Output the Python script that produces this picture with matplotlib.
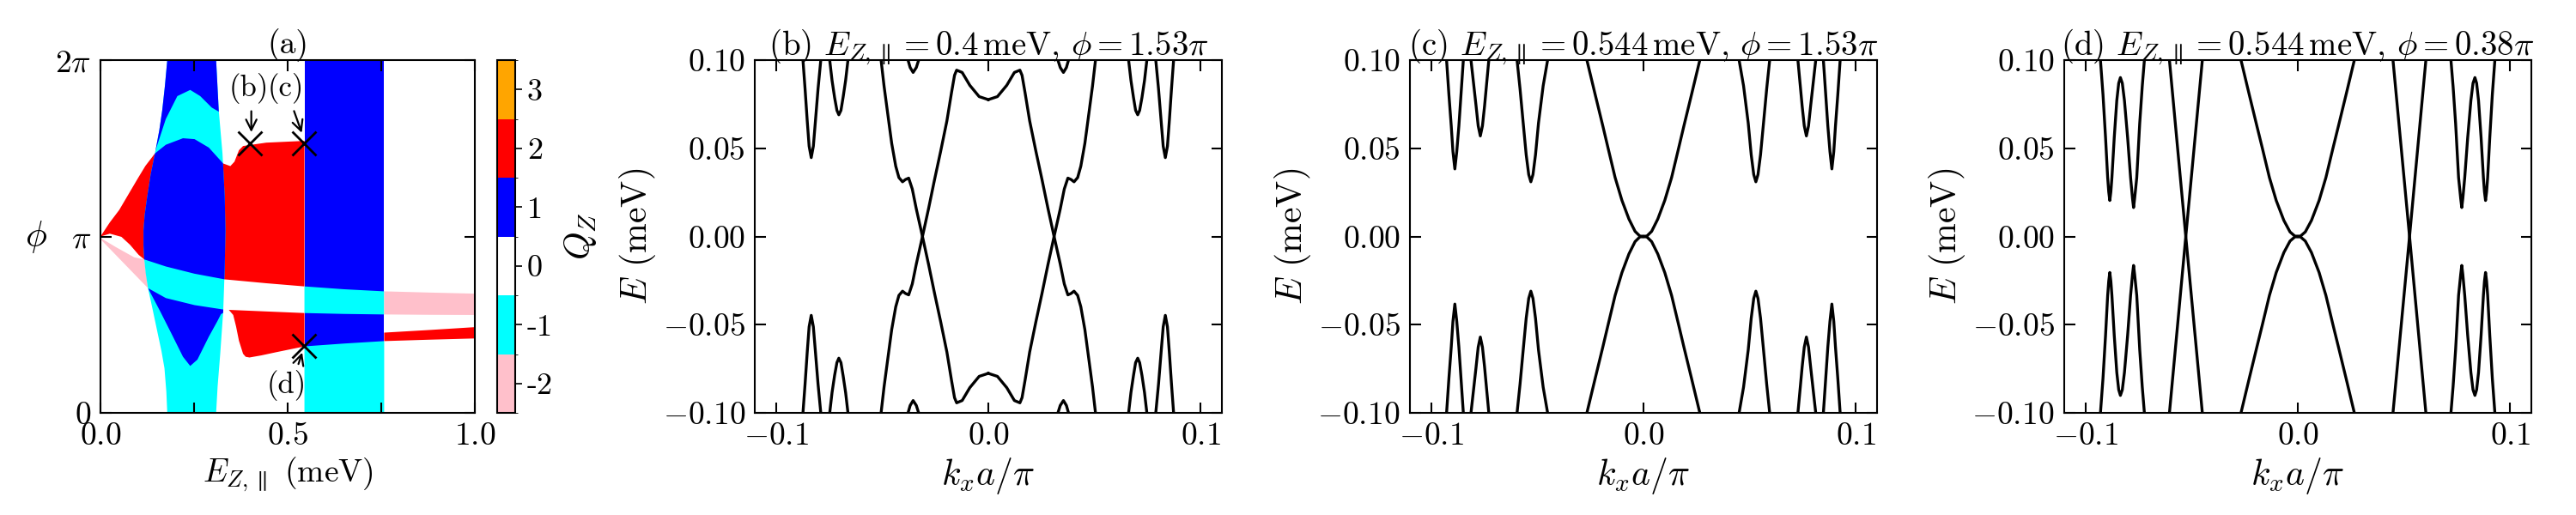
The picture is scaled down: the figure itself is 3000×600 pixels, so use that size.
import matplotlib
matplotlib.use("Agg")
import matplotlib.pyplot as plt
import numpy as np
from matplotlib.colors import ListedColormap, BoundaryNorm
from matplotlib.patches import Polygon
from matplotlib.cm import ScalarMappable

plt.rcParams["font.family"] = "serif"
plt.rcParams["font.serif"] = ["cmr10"]
plt.rcParams["mathtext.fontset"] = "cm"
plt.rcParams["axes.formatter.use_mathtext"] = True
plt.rcParams["font.size"] = 26

# ---------------- (a) phase diagram, x = E_Z (meV), y = phi/pi ----------------
qz_values = [-2, -1, 0, 1, 2, 3]
qz_colors = ["pink", "cyan", "white", "blue", "red", "orange"]

lobe_left_E = [0.1785, 0.172, 0.165, 0.157, 0.1456, 0.134, 0.125, 0.118, 0.115, 0.115,
               0.117, 0.121, 0.127, 0.138, 0.151, 0.163, 0.171, 0.176, 0.1785]
lobe_left_p = [2.0, 1.85, 1.715, 1.6, 1.471, 1.35, 1.227, 1.12, 1.033, 0.95,
               0.87, 0.79, 0.707, 0.6, 0.47, 0.35, 0.253, 0.12, 0.0]
lobe_right_E = [0.309, 0.316, 0.326, 0.332, 0.334, 0.332, 0.328, 0.320, 0.313, 0.309]
lobe_right_p = [2.0, 1.715, 1.471, 1.227, 1.033, 0.822, 0.578, 0.335, 0.15, 0.0]

c1_E = [0.0, 0.025, 0.05, 0.075, 0.10, 0.12, 0.1456, 0.1746, 0.2205, 0.2513, 0.2895,
        0.3278, 0.347, 0.358, 0.370, 0.381, 0.443, 0.545]
c1_p = [1.0, 1.08, 1.15, 1.24, 1.33, 1.40, 1.471, 1.520, 1.557, 1.552, 1.504,
        1.414, 1.399, 1.424, 1.489, 1.513, 1.532, 1.542]

c2_E = [0.10, 0.1456, 0.1746, 0.2054, 0.2398, 0.2665, 0.2973, 0.320, 0.34]
c2_p = [1.47, 1.479, 1.666, 1.796, 1.831, 1.796, 1.731, 1.703, 1.69]

c3_E = [0.0, 0.025, 0.056, 0.079, 0.102, 0.117, 0.1746, 0.2513, 0.332, 0.443, 0.545,
        0.65, 0.758, 0.88, 1.0]
c3_p = [1.0, 1.016, 0.998, 0.953, 0.896, 0.870, 0.830, 0.789, 0.757, 0.735, 0.717,
        0.701, 0.689, 0.682, 0.676]

c5_E = [0.120, 0.127, 0.1746, 0.2513, 0.328, 0.343, 0.443, 0.545, 0.65, 0.758, 0.88, 1.0]
c5_p = [0.715, 0.707, 0.651, 0.611, 0.586, 0.584, 0.575, 0.566, 0.561, 0.558, 0.556, 0.555]

c8_E = [0.115, 0.127, 0.159, 0.190, 0.2205, 0.2398, 0.259, 0.2895, 0.3124, 0.322, 0.34]
c8_p = [0.72, 0.707, 0.578, 0.448, 0.318, 0.266, 0.302, 0.432, 0.52, 0.56, 0.58]

c6_E = [0.388, 0.398, 0.43, 0.4695, 0.545, 0.65, 0.758, 0.88, 1.0]
c6_p = [0.318, 0.314, 0.326, 0.344, 0.377, 0.393, 0.407, 0.415, 0.422]

spike_E = [0.343, 0.3547, 0.3623, 0.370, 0.381, 0.388]
spike_p = [0.584, 0.555, 0.490, 0.409, 0.335, 0.318]

c7_E = [0.758, 0.88, 1.0]
c7_p = [0.455, 0.470, 0.486]

pink_E = [0.0, 0.041, 0.090, 0.117, 0.127, 0.0]
pink_p = [0.992, 0.94, 0.882, 0.870, 0.707, 0.985]

strip_E = [0.545, 0.758]

mark_E = [0.4, 0.544, 0.544]
mark_p = [1.53, 1.53, 0.38]
mark_lab = ["(b)", "(c)", "(d)"]
lab_pos = [(0.397, 1.838), (0.495, 1.838), (0.498, 0.158)]
arrow_from = [(0.403, 1.724), (0.515, 1.724), (0.527, 0.264)]
arrow_to = [(0.403, 1.578), (0.540, 1.575), (0.541, 0.355)]

b_main_k = [-0.0505, -0.0491, -0.0473, -0.0455, -0.0436, -0.0421, -0.0404, -0.0390, -0.0375,
            -0.0358, -0.0339, -0.0310, -0.0281, -0.0253, -0.0224, -0.0195, -0.0173, -0.0159,
            -0.0149, -0.0123, -0.0087, -0.0043, 0.0]
b_main_E = [0.100, 0.0853, 0.0690, 0.0528, 0.0399, 0.0334, 0.0310, 0.0323, 0.0331,
            0.0269, 0.0156, 0.0, -0.0160, -0.0323, -0.0485, -0.0655, -0.0817, -0.0914,
            -0.0943, -0.0930, -0.0857, -0.0793, -0.0776]
b_u1_k = [-0.0873, -0.0863, -0.0853, -0.0844, -0.0834, -0.0824, -0.0814, -0.0802, -0.0789]
b_u1_E = [0.100, 0.0836, 0.0658, 0.0512, 0.0447, 0.0512, 0.0658, 0.0836, 0.100]
b_u2_k = [-0.0747, -0.0736, -0.0724, -0.0713, -0.0704, -0.0694, -0.0684, -0.0672, -0.0661]
b_u2_E = [0.100, 0.0885, 0.0788, 0.0715, 0.0690, 0.0715, 0.0788, 0.0885, 0.100]
b_u3_k = [-0.0378, -0.0368, -0.0354, -0.0339, -0.0328]
b_u3_E = [0.100, 0.0958, 0.0930, 0.0958, 0.100]

c_main_k = [-0.0266, -0.0227, -0.0191, -0.0166, -0.0133, -0.0101, -0.0068, -0.0039, -0.0017, 0.0]
c_main_E = [0.100, 0.0805, 0.0627, 0.0500, 0.0334, 0.0205, 0.0099, 0.0029, 0.0003, 0.0]
c_v1_k = [-0.0927, -0.0916, -0.0905, -0.0897, -0.0888, -0.0879, -0.0869, -0.0859, -0.0848]
c_v1_E = [0.100, 0.0805, 0.0627, 0.0481, 0.0383, 0.0481, 0.0627, 0.0805, 0.100]
c_v2_k = [-0.0812, -0.0800, -0.0788, -0.0778, -0.0768, -0.0758, -0.0748, -0.0738, -0.0728]
c_v2_E = [0.100, 0.0870, 0.0740, 0.0627, 0.0570, 0.0627, 0.0740, 0.0870, 0.100]
c_v3_k = [-0.0595, -0.0581, -0.0566, -0.0552, -0.0540, -0.0530, -0.0520, -0.0508, -0.0494, -0.0472, -0.0451]
c_v3_E = [0.100, 0.0838, 0.0643, 0.0464, 0.0351, 0.0310, 0.0351, 0.0464, 0.0643, 0.0854, 0.100]

d_main_k = [-0.0267, -0.0228, -0.0192, -0.0166, -0.0133, -0.0101, -0.0065, -0.0036, -0.0014, 0.0]
d_main_E = [0.100, 0.0804, 0.0626, 0.0499, 0.0334, 0.0204, 0.0091, 0.0026, 0.0003, 0.0]
d_line_k = [-0.0604, -0.0527, -0.0449]
d_line_E = [0.100, 0.0, -0.100]
d_w_k = [-0.0929, -0.0917, -0.0905, -0.0895, -0.0890, -0.0885, -0.0880, -0.0875, -0.0864,
         -0.0852, -0.0843, -0.0835, -0.0826, -0.0816, -0.0801, -0.0787, -0.0778, -0.0773,
         -0.0768, -0.0758, -0.0744, -0.0732, -0.0722]
d_w_E = [0.100, 0.0804, 0.0561, 0.0334, 0.0253, 0.0204, 0.0253, 0.0334, 0.0561,
         0.0771, 0.0869, 0.0901, 0.0869, 0.0771, 0.0561, 0.0334, 0.0215, 0.0164,
         0.0215, 0.0334, 0.0642, 0.0853, 0.100]

titles = [r"(b) $E_{Z,\parallel}=0.4\,\mathrm{meV}$, $\phi=1.53\pi$",
          r"(c) $E_{Z,\parallel}=0.544\,\mathrm{meV}$, $\phi=1.53\pi$",
          r"(d) $E_{Z,\parallel}=0.544\,\mathrm{meV}$, $\phi=0.38\pi$"]


def seg(E, p, lo, hi):
    E = np.asarray(E)
    p = np.asarray(p)
    m = (E >= lo - 1e-9) & (E <= hi + 1e-9)
    return E[m], p[m]


def band(ax, top, bot, lo, hi, color, clip=None):
    tE, tp = seg(top[0], top[1], lo, hi)
    bE, bp = seg(bot[0], bot[1], lo, hi)
    xs = np.concatenate([tE, bE[::-1]])
    ys = np.concatenate([tp, bp[::-1]])
    for patch in ax.fill(xs, ys, color=color, lw=0):
        if clip is not None:
            patch.set_clip_path(clip)


def style(ax):
    ax.tick_params(direction="in", top=True, right=True, length=9, width=1.5,
                   labelsize=27, pad=8)
    for s in ax.spines.values():
        s.set_linewidth(1.5)


fig = plt.figure(figsize=(30, 6), dpi=100)
ax_a = fig.add_axes([0.039, 0.1983, 0.1453, 0.685])
cax = fig.add_axes([0.193, 0.1983, 0.007, 0.685])
ax_b = fig.add_axes([0.293, 0.1983, 0.1813, 0.685])
ax_c = fig.add_axes([0.5473, 0.1983, 0.1813, 0.685])
ax_d = fig.add_axes([0.8013, 0.1983, 0.1813, 0.685])

# ---- panel (a)
ax = ax_a
lo_s, hi_s = strip_E
band(ax, (c1_E, c1_p), (c3_E, c3_p), 0.0, lo_s, "red")
ax.fill(pink_E, pink_p, color="pink", lw=0)
top_E, top_p = seg(c5_E, c5_p, spike_E[0], lo_s)
bot_E, bot_p = seg(c6_E, c6_p, spike_E[-1], lo_s)
low_red_E = list(top_E) + list(bot_E[::-1]) + spike_E[::-1]
low_red_p = list(top_p) + list(bot_p[::-1]) + spike_p[::-1]
ax.fill(low_red_E, low_red_p, color="red", lw=0)

lobe_xy = np.column_stack([lobe_left_E + lobe_right_E[::-1], lobe_left_p + lobe_right_p[::-1]])
ax.fill(lobe_xy[:, 0], lobe_xy[:, 1], color="cyan", lw=0)
lobe = Polygon(lobe_xy, closed=True, transform=ax.transData)
band(ax, (c2_E, [2.1] * len(c2_E)), (c2_E, c2_p), 0.0, 1.0, "blue", clip=lobe)
band(ax, (c1_E, c1_p), (c3_E, c3_p), 0.0, lo_s, "blue", clip=lobe)
band(ax, (c5_E, c5_p), (c8_E, c8_p), 0.0, 0.345, "blue", clip=lobe)

ax.axvspan(lo_s, hi_s, color="blue", lw=0)
band(ax, (c3_E, c3_p), (c5_E, c5_p), lo_s, hi_s, "cyan")
band(ax, (c6_E, c6_p), (strip_E, [0, 0]), lo_s, hi_s, "cyan")
band(ax, (c3_E, c3_p), (c5_E, c5_p), hi_s, 1.0, "pink")
band(ax, (c7_E, c7_p), (c6_E, c6_p), hi_s, 1.0, "red")

ax.plot(mark_E, mark_p, "x", color="k", ms=20, mew=2)
for lab, (tx, ty), a0, a1 in zip(mark_lab, lab_pos, arrow_from, arrow_to):
    ax.text(tx, ty, lab, ha="center", va="center", fontsize=25)
    ax.annotate("", xy=a1, xytext=a0,
                arrowprops=dict(arrowstyle="->", color="k", lw=1.6, mutation_scale=22))

ax.set_xlim(0, 1)
ax.set_ylim(0, 2)
ax.set_xticks([0, 0.25, 0.5, 0.75, 1.0])
ax.set_xticklabels([r"$0.0$", "", r"$0.5$", "", r"$1.0$"])
ax.set_yticks([0, 1, 2])
ax.set_yticklabels([r"$0$", r"$\pi$", r"$2\pi$"])
ax.set_xlabel(r"$E_{Z,\parallel}$ (meV)", fontsize=27)
ax.set_ylabel(r"$\phi$", fontsize=30, rotation=0, labelpad=16, va="center")
ax.set_title("(a)", fontsize=27, pad=6)
style(ax)

cmap = ListedColormap(qz_colors)
norm = BoundaryNorm(np.arange(qz_values[0] - 0.5, qz_values[-1] + 1.0, 1.0), cmap.N)
cb = fig.colorbar(ScalarMappable(norm=norm, cmap=cmap), cax=cax, ticks=qz_values)
cb.ax.set_yticklabels([str(v) for v in qz_values])
cb.ax.tick_params(direction="out", length=6, width=1.2, labelsize=26, pad=4)
cb.outline.set_linewidth(1.5)
cb.set_label(r"$Q_Z$", fontsize=30, labelpad=8)

# ---- panels (b)-(d)
panel_curves = [
    [(b_main_k, b_main_E), (b_u1_k, b_u1_E), (b_u2_k, b_u2_E), (b_u3_k, b_u3_E)],
    [(c_main_k, c_main_E), (c_v1_k, c_v1_E), (c_v2_k, c_v2_E), (c_v3_k, c_v3_E)],
    [(d_main_k, d_main_E), (d_line_k, d_line_E), (d_w_k, d_w_E)],
]
for ax, curves, title in zip([ax_b, ax_c, ax_d], panel_curves, titles):
    for k, E in curves:
        k = np.asarray(k)
        E = np.asarray(E)
        for sk in (1, -1):
            for sE in (1, -1):
                ax.plot(sk * k, sE * E, color="k", lw=2.4)
    ax.set_xlim(-0.11, 0.11)
    ax.set_ylim(-0.1, 0.1)
    ax.set_xticks([-0.1, 0.0, 0.1])
    ax.set_yticks([-0.1, -0.05, 0.0, 0.05, 0.1])
    ax.set_xlabel(r"$k_x a/\pi$", fontsize=30)
    ax.set_ylabel(r"$E$ (meV)", fontsize=30)
    ax.set_title(title, fontsize=28, pad=4)
    style(ax)

fig.savefig("out.png", dpi=100)
